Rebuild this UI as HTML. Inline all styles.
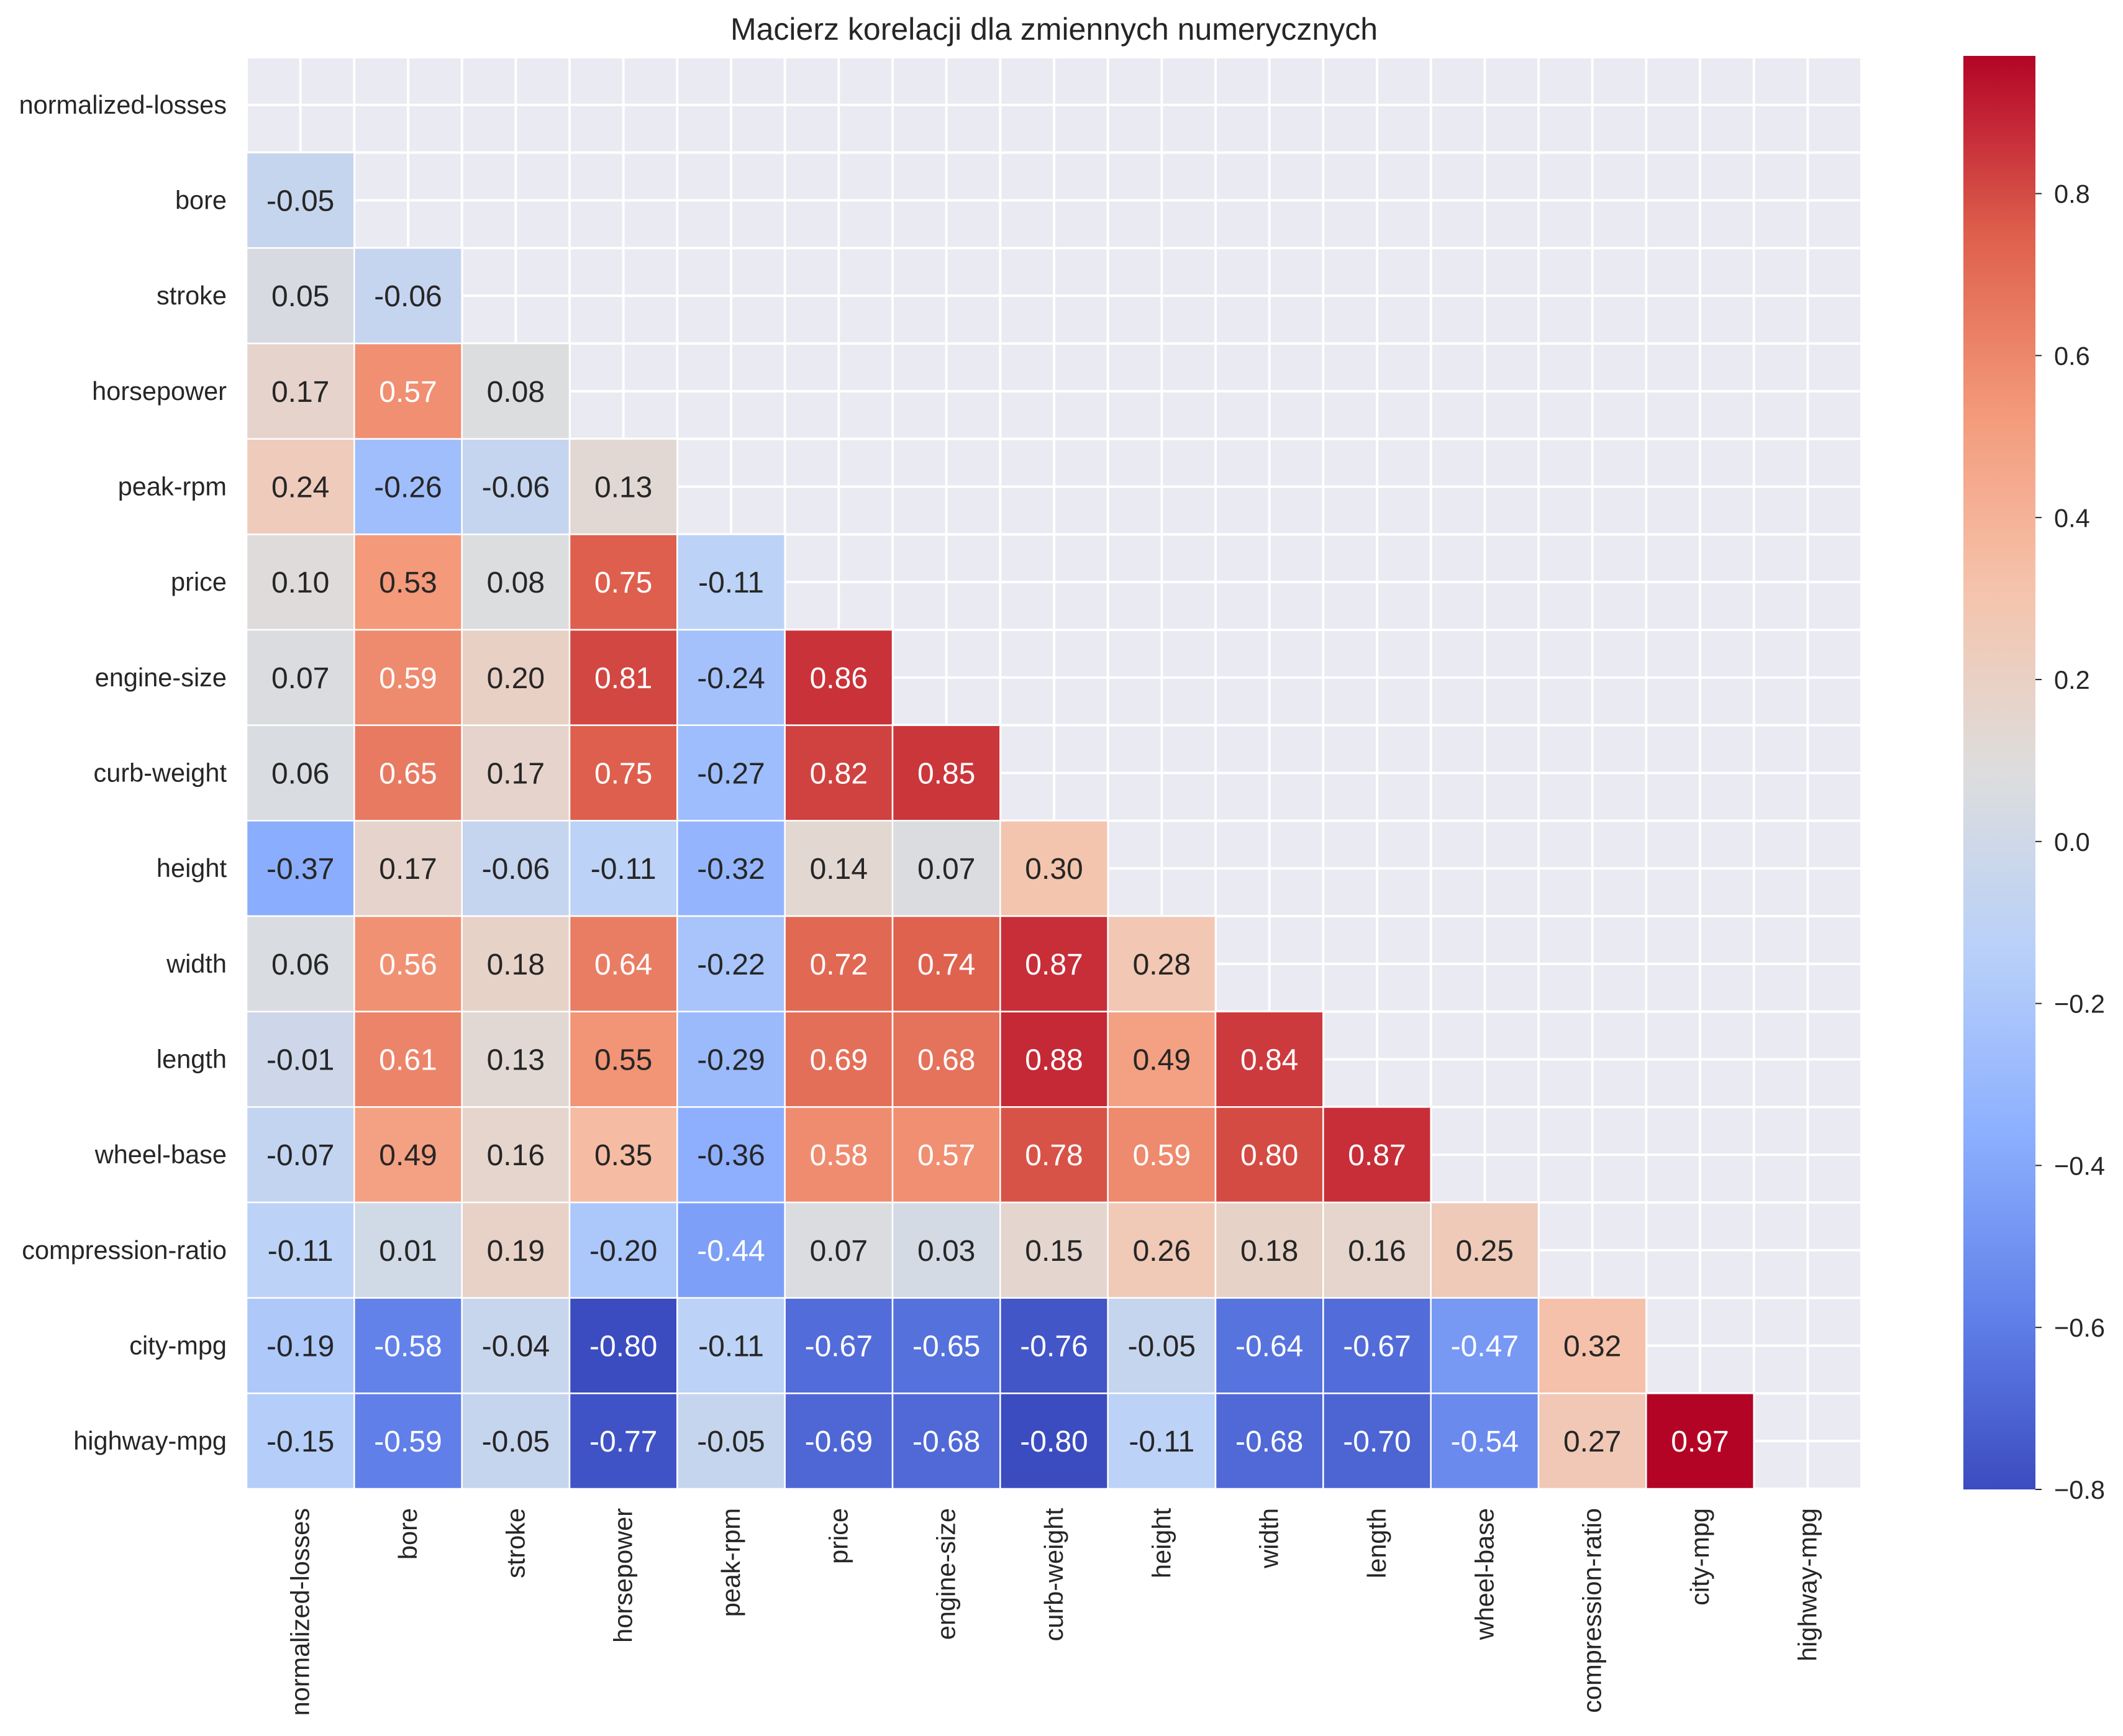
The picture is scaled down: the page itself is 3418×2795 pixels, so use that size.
<!DOCTYPE html>
<html><head><meta charset="utf-8"><style>
html,body{margin:0;padding:0;background:#fff;}
svg{display:block;font-family:"Liberation Sans",Arial,sans-serif;}
</style></head><body>
<svg id="chart" width="3418" height="2795" viewBox="0 0 3418 2795" xmlns="http://www.w3.org/2000/svg">
<text x="1697" y="64" text-anchor="middle" font-size="50" fill="#262626">Macierz korelacji dla zmiennych numerycznych</text>
<g id="plot"></g>
<g id="cbar"></g>
</svg>
<script>
const labels = ["normalized-losses","bore","stroke","horsepower","peak-rpm","price","engine-size","curb-weight","height","width","length","wheel-base","compression-ratio","city-mpg","highway-mpg"];
const row1 = [-0.05];
const row2 = [0.05,-0.06];
const row3 = [0.17,0.57,0.08];
const row4 = [0.24,-0.26,-0.06,0.13];
const row5 = [0.10,0.53,0.08,0.75,-0.11];
const row6 = [0.07,0.59,0.20,0.81,-0.24,0.86];
const row7 = [0.06,0.65,0.17,0.75,-0.27,0.82,0.85];
const row8 = [-0.37,0.17,-0.06,-0.11,-0.32,0.14,0.07,0.30];
const row9 = [0.06,0.56,0.18,0.64,-0.22,0.72,0.74,0.87,0.28];
const row10 = [-0.01,0.61,0.13,0.55,-0.29,0.69,0.68,0.88,0.49,0.84];
const row11 = [-0.07,0.49,0.16,0.35,-0.36,0.58,0.57,0.78,0.59,0.80,0.87];
const row12 = [-0.11,0.01,0.19,-0.20,-0.44,0.07,0.03,0.15,0.26,0.18,0.16,0.25];
const row13 = [-0.19,-0.58,-0.04,-0.80,-0.11,-0.67,-0.65,-0.76,-0.05,-0.64,-0.67,-0.47,0.32];
const row14 = [-0.15,-0.59,-0.05,-0.77,-0.05,-0.69,-0.68,-0.80,-0.11,-0.68,-0.70,-0.54,0.27,0.97];
const rows = [[],row1,row2,row3,row4,row5,row6,row7,row8,row9,row10,row11,row12,row13,row14];
const cbarTicks = [-0.8,-0.6,-0.4,-0.2,0.0,0.2,0.4,0.6,0.8];
const vmin = -0.8, vmax = 0.97;

const NS="http://www.w3.org/2000/svg";
const L=397,R=2997,T=92,B=2397;
const n=labels.length, cw=(R-L)/n, ch=(B-T)/n;
const xs=i=>L+i*cw, ys=j=>T+j*ch;
const stops=[[59,76,192],[98,130,234],[141,176,254],[184,208,249],[221,221,221],[245,196,173],[244,154,123],[222,96,77],[180,4,38]];
function cmap(v){let t=(v-vmin)/(vmax-vmin);t=Math.max(0,Math.min(1,t))*8;let i=Math.min(7,Math.floor(t)),f=t-i;
 return stops[i].map((c,k)=>Math.round(c+(stops[i+1][k]-c)*f));}
function el(tag,at,parent){const e=document.createElementNS(NS,tag);for(const k in at)e.setAttribute(k,at[k]);parent.appendChild(e);return e;}
const plot=document.getElementById('plot');
const bg=el('rect',{x:L,y:T,width:R-L,height:B-T,fill:'#eaeaf2'},plot);


for(let i=0;i<=2*n;i++){
 const gx=el('line',{x1:L+i*cw/2,x2:L+i*cw/2,y1:T,y2:B,stroke:'#fff','stroke-width':4},plot);
 
 
 const gy=el('line',{x1:L,x2:R,y1:T+i*ch/2,y2:T+i*ch/2,stroke:'#fff','stroke-width':4},plot);
 
 
}
rows.forEach((r,j)=>r.forEach((v,i)=>{
 const c=cmap(v);
 const rc=el('rect',{x:xs(i),y:ys(j),width:cw,height:ch,fill:`rgb(${c})`,stroke:'#fff','stroke-width':2.5},plot);
 
 
 const lum=0.2126*Math.pow(c[0]/255,2.2)+0.7152*Math.pow(c[1]/255,2.2)+0.0722*Math.pow(c[2]/255,2.2);
 const tx=el('text',{x:xs(i)+cw/2,y:ys(j)+ch/2+17,'text-anchor':'middle','font-size':48,fill:lum<0.408?'#fff':'#262626'},plot);
 tx.textContent=v.toFixed(2);
 
 
}));
labels.forEach((lb,j)=>{
 const t=el('text',{x:365,y:ys(j)+ch/2+14,'text-anchor':'end','font-size':41.5,fill:'#262626'},plot);
 t.textContent=lb;
 
 
 const cx=xs(j)+cw/2+14;
 const u=el('text',{x:cx,y:2428,'text-anchor':'end','font-size':41.5,fill:'#262626',transform:`rotate(-90 ${cx} 2428)`},plot);
 u.textContent=lb;
 
 
});
const cb=document.getElementById('cbar');
const CX=3161,CW=116,CT=90,CB=2398;
const defs=el('defs',{},cb);
const grad=el('linearGradient',{id:'cg',x1:0,y1:1,x2:0,y2:0},defs);
for(let k=0;k<=16;k++){const v=vmin+(vmax-vmin)*k/16;const c=cmap(v);el('stop',{offset:k/16,'stop-color':`rgb(${c})`},grad);}
const cr=el('rect',{x:CX,y:CT,width:CW,height:CB-CT,fill:'url(#cg)'},cb);


const cy=v=>CB-(v-vmin)/(vmax-vmin)*(CB-CT);
cbarTicks.forEach(v=>{
 const tk=el('line',{x1:CX+CW,x2:CX+CW+10,y1:cy(v),y2:cy(v),stroke:'#262626','stroke-width':2},cb);
 
 
 const t=el('text',{x:3307,y:cy(v)+15,'font-size':41.5,fill:'#262626'},cb);
 t.textContent=(v<0?'\u2212':'')+Math.abs(v).toFixed(1);
 
 
});
</script>
</body></html>
